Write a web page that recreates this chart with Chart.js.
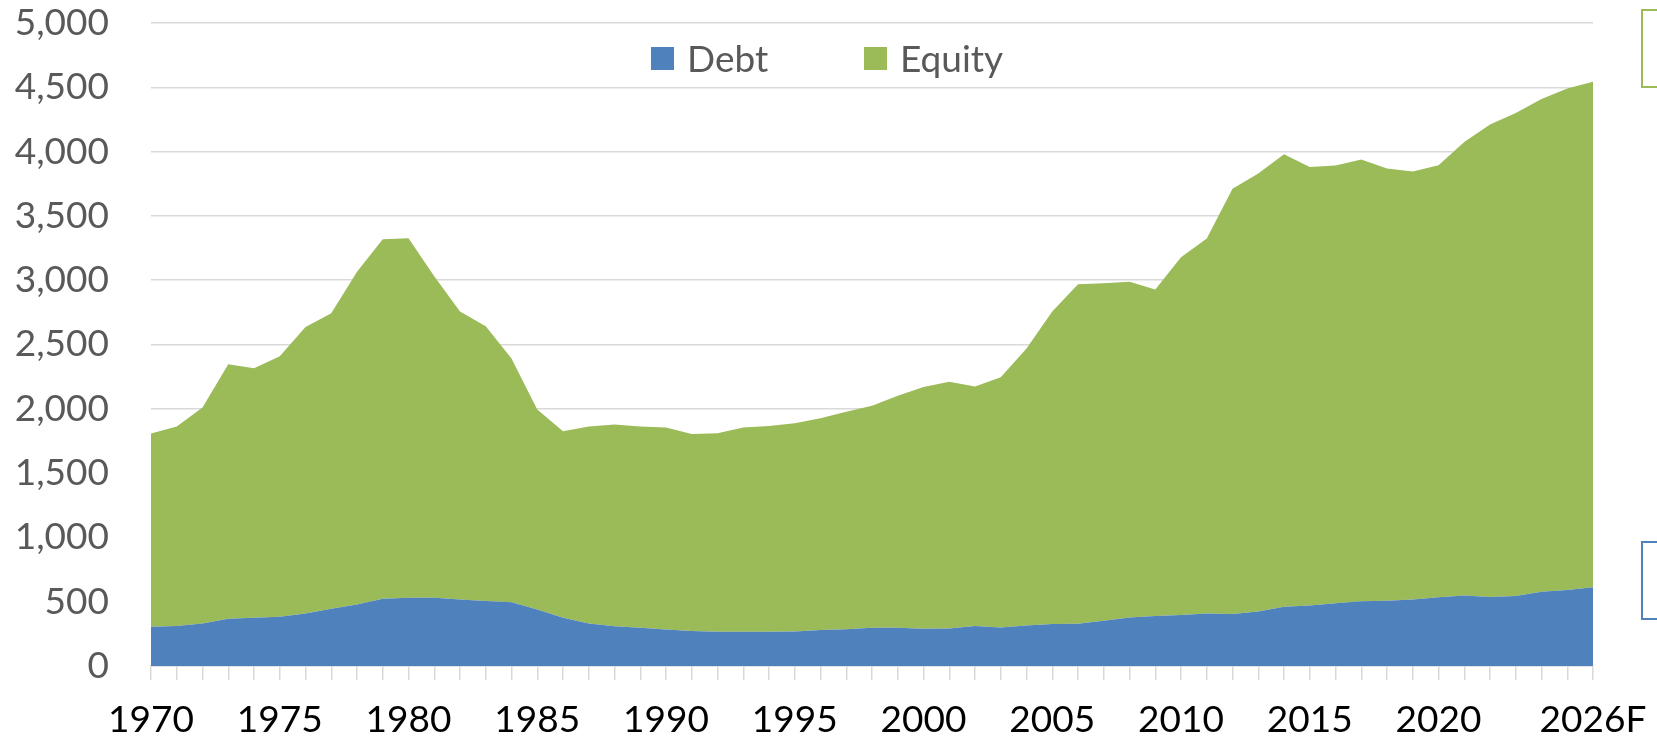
<!DOCTYPE html>
<html>
<head>
<meta charset="utf-8">
<script src="https://cdn.jsdelivr.net/npm/chart.js@4.4.1/dist/chart.umd.min.js"></script>
<style>
    html, body { margin: 0; padding: 0; background: #ffffff; }
    #wrap { width: 1657px; height: 744px; }
</style>
</head>
<body>
<div id="wrap"><canvas id="fundingChart" width="1657" height="744"></canvas></div>
<script>
// categorias (anos), o último é previsão
const years = ['1970', '1971', '1972', '1973', '1974', '1975', '1976', '1977', '1978', '1979',
    '1980', '1981', '1982', '1983', '1984', '1985', '1986', '1987', '1988', '1989',
    '1990', '1991', '1992', '1993', '1994', '1995', '1996', '1997', '1998', '1999',
    '2000', '2001', '2002', '2003', '2004', '2005', '2006', '2007', '2008', '2009',
    '2010', '2011', '2012', '2013', '2014', '2015', '2016', '2017', '2018', '2019',
    '2020', '2021', '2022', '2023', '2024', '2025', '2026F'];

const debtValues = [305, 312, 331, 367, 375, 383, 409, 445, 479, 523,
    531, 531, 518, 505, 495, 440, 375, 331, 310, 297,
    284, 273, 266, 266, 266, 268, 279, 286, 297, 297,
    289, 292, 312, 299, 315, 326, 328, 352, 378, 388,
    396, 409, 404, 424, 461, 471, 487, 503, 508, 518,
    534, 549, 536, 544, 578, 591, 612];

const equityValues = [1502, 1550, 1679, 1980, 1941, 2026, 2228, 2298, 2586, 2796,
    2795, 2499, 2238, 2137, 1896, 1555, 1451, 1531, 1568, 1565,
    1570, 1532, 1544, 1588, 1601, 1620, 1648, 1691, 1726, 1805,
    1880, 1919, 1862, 1946, 2154, 2430, 2641, 2625, 2609, 2539,
    2783, 2915, 3308, 3405, 3518, 3410, 3404, 3435, 3360, 3327,
    3360, 3526, 3674, 3757, 3831, 3899, 3932];

const seriesNames = ['Debt', 'Equity'];
const seriesColors = ['#4f81bd', '#9bbb59'];

const fontFamily = 'Lato, "Open Sans", sans-serif';

// legenda desenhada dentro da área do gráfico, como no Excel
const insideLegend = {
    id: 'insideLegend',
    afterDraw(chart) {
        const ctx = chart.ctx;
        const items = [{ x: 651 }, { x: 864 }];
        ctx.save();
        ctx.font = '37px ' + fontFamily;
        ctx.textBaseline = 'middle';
        ctx.textAlign = 'left';
        chart.data.datasets.forEach((ds, i) => {
            const x = items[i].x;
            ctx.fillStyle = ds.backgroundColor;
            ctx.fillRect(x, 47, 23, 23);
            ctx.fillStyle = '#595959';
            ctx.fillText(ds.label, x + 36, 60);
        });
        ctx.restore();
    }
};

// caixas de rótulo cortadas na margem direita
const sideBoxes = {
    id: 'sideBoxes',
    afterDraw(chart) {
        const ctx = chart.ctx;
        ctx.save();
        ctx.lineWidth = 2;
        ctx.strokeStyle = seriesColors[1];
        ctx.strokeRect(1642, 10, 100, 77);
        ctx.strokeStyle = seriesColors[0];
        ctx.strokeRect(1642, 542, 100, 77);
        ctx.restore();
    }
};

const ctx = document.getElementById('fundingChart').getContext('2d');

new Chart(ctx, {
    type: 'line',
    data: {
        labels: years,
        datasets: [
            {
                label: seriesNames[0],
                data: debtValues,
                backgroundColor: seriesColors[0],
                borderWidth: 0,
                pointRadius: 0,
                fill: 'origin'
            },
            {
                label: seriesNames[1],
                data: equityValues,
                backgroundColor: seriesColors[1],
                borderWidth: 0,
                pointRadius: 0,
                fill: '-1'
            }
        ]
    },
    options: {
        responsive: false,
        animation: false,
        layout: {
            padding: { left: 15, right: 64, top: 23, bottom: 0 }
        },
        plugins: {
            legend: { display: false },
            tooltip: { enabled: false }
        },
        scales: {
            x: {
                offset: false,
                grid: {
                    drawOnChartArea: false,
                    drawTicks: true,
                    tickLength: 14,
                    color: '#d9d9d9',
                    lineWidth: 1.5
                },
                border: { color: '#d9d9d9', width: 1.5 },
                ticks: {
                    autoSkip: false,
                    maxRotation: 0,
                    color: '#000000',
                    padding: 18,
                    font: { family: fontFamily, size: 37 },
                    callback: function(value, index) {
                        if (index % 5 === 0 && index < years.length - 3) return years[index];
                        if (index === years.length - 1) return years[index];
                        return '';
                    }
                },
                afterFit: function(scale) {
                    scale.height = 78;
                    scale.paddingLeft = 0;
                    scale.paddingRight = 0;
                }
            },
            y: {
                stacked: true,
                min: 0,
                max: 5000,
                grid: {
                    drawTicks: true,
                    tickLength: 42,
                    tickColor: 'rgba(0,0,0,0)',
                    color: '#d9d9d9',
                    lineWidth: 1.5
                },
                border: { display: false },
                ticks: {
                    stepSize: 500,
                    color: '#595959',
                    padding: 0,
                    font: { family: fontFamily, size: 37 },
                    callback: function(value) { return value.toLocaleString('en-US'); }
                },
                afterFit: function(scale) { scale.width = 136; }
            }
        }
    },
    plugins: [insideLegend, sideBoxes]
});
</script>
</body>
</html>
